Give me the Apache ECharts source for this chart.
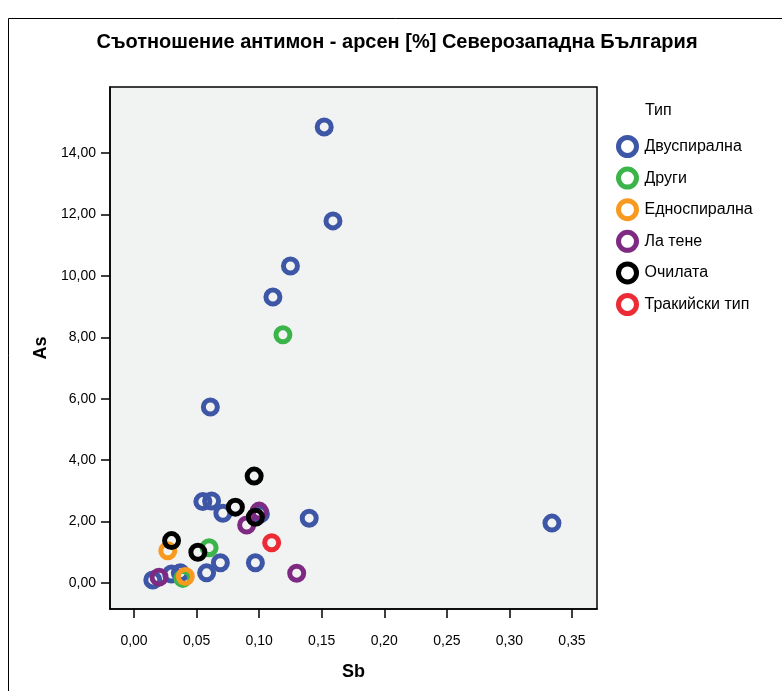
<!DOCTYPE html>
<html>
<head>
<meta charset="utf-8">
<script src="https://cdn.jsdelivr.net/npm/echarts@6/dist/echarts.min.js"></script>
<style>
  html, body { margin: 0; padding: 0; background: #fff; }
  #chart { width: 782px; height: 691px; }
</style>
</head>
<body>
<div id="chart"></div>
<script>
// Sb / As content [%] by fibula type, each point = [Sb, As]
const typeNames = ['Двуспирална', 'Други', 'Едноспирална', 'Ла тене', 'Очилата', 'Тракийски тип'];
const typeColors = ['#3d56a6', '#3bb44a', '#f89a20', '#7e2a83', '#000000', '#ec2b36'];

const dvuspiralna = [
  [0.152, 14.85], [0.159, 11.79], [0.125, 10.32], [0.111, 9.31], [0.061, 5.73],
  [0.055, 2.65], [0.062, 2.67], [0.071, 2.27], [0.140, 2.11], [0.334, 1.95],
  [0.101, 2.25], [0.069, 0.66], [0.097, 0.66], [0.058, 0.33], [0.030, 0.29],
  [0.037, 0.33], [0.015, 0.10]
];
const drugi = [[0.119, 8.08], [0.060, 1.15], [0.039, 0.15]];
const ednospiralna = [[0.027, 1.05], [0.041, 0.21]];
const laTene = [[0.100, 2.34], [0.090, 1.89], [0.130, 0.32], [0.020, 0.19]];
const ochilata = [[0.096, 3.48], [0.081, 2.47], [0.097, 2.14], [0.030, 1.38], [0.051, 1.00]];
const trakiyski = [[0.110, 1.31]];

const xTicks = [0, 0.05, 0.10, 0.15, 0.20, 0.25, 0.30, 0.35];
const yTicks = [0, 2, 4, 6, 8, 10, 12, 14];

const seriesData = [dvuspiralna, drugi, ednospiralna, laTene, ochilata, trakiyski];

const fmt = v => v.toFixed(2).replace('.', ',');
const font = 'Liberation Sans, Arial, sans-serif';

const chart = echarts.init(document.getElementById('chart'), null, { renderer: 'canvas' });

chart.setOption({
  backgroundColor: '#ffffff',
  animation: false,
  title: {
    text: 'Съотношение антимон - арсен [%] Северозападна България',
    left: 392, top: 27, textAlign: 'center',
    textStyle: { fontFamily: font, fontSize: 20, fontWeight: 'bold', color: '#000' }
  },
  graphic: [
    { type: 'rect', silent: true, shape: { x: 8.5, y: 18.5, width: 900, height: 900 },
      style: { fill: 'none', stroke: '#000', lineWidth: 1 } },
    { type: 'text', left: 645, top: 103, silent: true,
      style: { text: 'Тип', fontFamily: font, fontSize: 16, fill: '#000' } }
  ],
  legend: {
    orient: 'vertical',
    left: 611, top: 130,
    itemWidth: 18, itemHeight: 22, itemGap: 8.6,
    icon: 'circle',
    textStyle: { fontFamily: font, fontSize: 16, lineHeight: 18, color: '#000', padding: [0, 0, 0, 3] },
    data: typeNames.map((n, i) => ({
      name: n,
      itemStyle: { color: 'rgba(0,0,0,0)', borderColor: typeColors[i], borderWidth: 5 }
    }))
  },
  grid: {
    left: 110, right: 185, top: 87, bottom: 82,
    show: true, backgroundColor: '#f1f2f2', borderColor: '#000', borderWidth: 1.5
  },
  xAxis: {
    type: 'value', min: -0.0192, max: 0.370,
    name: 'Sb', nameLocation: 'middle', nameGap: 54,
    nameTextStyle: { fontFamily: font, fontSize: 18, fontWeight: 'bold', color: '#000' },
    axisLine: { show: true, onZero: false, lineStyle: { color: '#000', width: 1.5 } },
    axisTick: { show: true, customValues: xTicks, length: 9, lineStyle: { color: '#000', width: 1.5 } },
    axisLabel: { customValues: xTicks, formatter: fmt, margin: 25,
      fontFamily: font, fontSize: 14, color: '#000' },
    splitLine: { show: false }
  },
  yAxis: {
    type: 'value', min: -0.847, max: 16.15,
    name: 'As', nameLocation: 'middle', nameGap: 54,
    nameTextStyle: { fontFamily: font, fontSize: 18, fontWeight: 'bold', color: '#000' },
    axisLine: { show: true, onZero: false, lineStyle: { color: '#000', width: 1.5 } },
    axisTick: { show: true, customValues: yTicks, length: 9, lineStyle: { color: '#000', width: 1.5 } },
    axisLabel: { customValues: yTicks, formatter: fmt, margin: 14,
      fontFamily: font, fontSize: 14, color: '#000' },
    splitLine: { show: false }
  },
  series: typeNames.map((n, i) => ({
    name: n,
    type: 'scatter',
    symbol: 'circle',
    symbolSize: 14,
    data: seriesData[i],
    itemStyle: { color: 'rgba(0,0,0,0)', borderColor: typeColors[i], borderWidth: 5, opacity: 1 },
    emphasis: { disabled: true }
  }))
});
</script>
</body>
</html>
